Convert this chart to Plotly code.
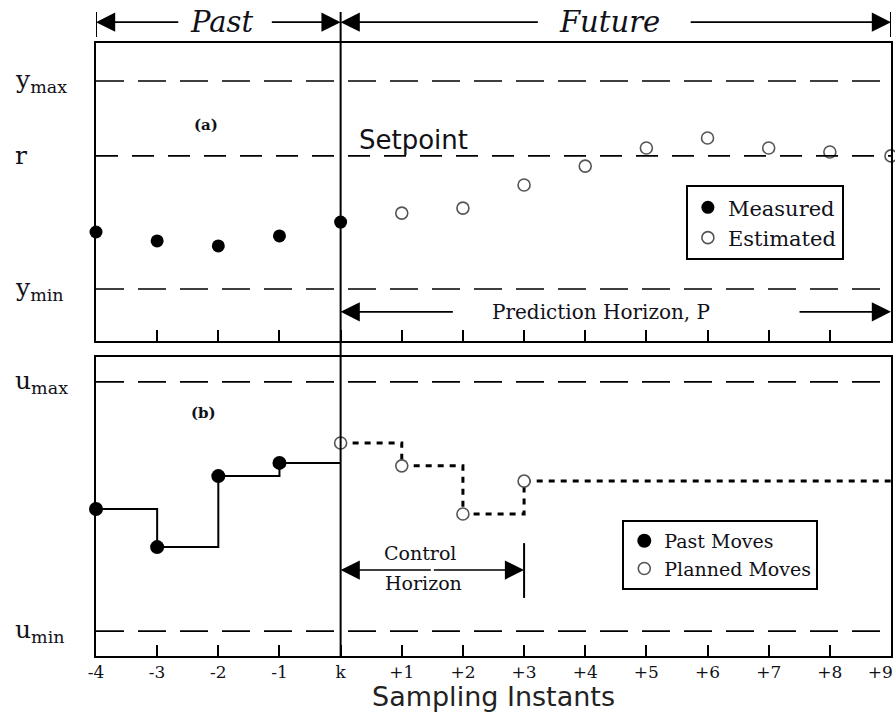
import plotly.graph_objects as go

# ---------------- data ----------------
tick_vals = [-4, -3, -2, -1, 0, 1, 2, 3, 4, 5, 6, 7, 8, 9]
tick_text = ["-4", "-3", "-2", "-1", "k", "+1", "+2", "+3", "+4", "+5", "+6", "+7", "+8",
             "+9\u00a0\u00a0\u00a0\u00a0"]

measured_x = [-4, -3, -2, -1, 0]
measured_y = [0.274, 0.231, 0.207, 0.255, 0.322]

estimated_x = [1, 2, 3, 4, 5, 6, 7, 8, 9]
estimated_y = [0.365, 0.389, 0.50, 0.591, 0.678, 0.726, 0.678, 0.659, 0.64]

y_min, y_set, y_max = 0.0, 0.64, 1.0

past_x = [-4, -3, -2, -1]
past_u = [0.49, 0.337, 0.622, 0.675]

planned_x = [0, 1, 2, 3]
planned_u = [0.755, 0.663, 0.47, 0.602]

u_min, u_max = 0.0, 1.0
k_now = 0
x_end = 9
control_horizon = 3

SERIF = "DejaVu Serif"
SANS = "DejaVu Sans"
INK = "#111118"

fig = go.Figure()

# top panel traces
fig.add_trace(go.Scatter(x=measured_x, y=measured_y, mode="markers", name="Measured",
                         marker=dict(color="black", size=13), cliponaxis=False,
                         xaxis="x", yaxis="y", legend="legend"))
fig.add_trace(go.Scatter(x=estimated_x, y=estimated_y, mode="markers", name="Estimated",
                         marker=dict(color="white", size=12, line=dict(color="#555", width=1.6)),
                         cliponaxis=False, xaxis="x", yaxis="y", legend="legend"))

# bottom panel: step lines
fig.add_trace(go.Scatter(x=past_x + [k_now], y=past_u + [past_u[-1]], mode="lines",
                         line=dict(color="black", width=2, shape="hv"), showlegend=False,
                         xaxis="x2", yaxis="y2", hoverinfo="skip"))
fig.add_trace(go.Scatter(x=planned_x + [x_end], y=planned_u + [planned_u[-1]], mode="lines",
                         line=dict(color="black", width=3, shape="hv", dash="6px,6px"),
                         showlegend=False, xaxis="x2", yaxis="y2", hoverinfo="skip", cliponaxis=False))
fig.add_trace(go.Scatter(x=past_x, y=past_u, mode="markers", name="Past Moves",
                         marker=dict(color="black", size=14), cliponaxis=False,
                         xaxis="x2", yaxis="y2", legend="legend2"))
fig.add_trace(go.Scatter(x=planned_x, y=planned_u, mode="markers", name="Planned Moves",
                         marker=dict(color="white", size=12, line=dict(color="#555", width=1.6)),
                         cliponaxis=False, xaxis="x2", yaxis="y2", legend="legend2"))

shapes = []
# dashed limit lines
for yv, dash in [(y_max, "28px,14px"), (y_set, "22px,14px"), (y_min, "28px,14px")]:
    shapes.append(dict(type="line", xref="x", yref="y", x0=-4, x1=x_end, y0=yv, y1=yv,
                       line=dict(color="black", width=1.6, dash=dash)))
for yv in [u_max, u_min]:
    shapes.append(dict(type="line", xref="x2", yref="y2", x0=-4, x1=x_end, y0=yv, y1=yv,
                       line=dict(color="black", width=1.6, dash="28px,14px")))
# vertical line at k through both panels
shapes.append(dict(type="line", xref="x", yref="paper", x0=k_now, x1=k_now, y0=0, y1=1.0506,
                   line=dict(color="black", width=2)))
# header ticks
for xv in [-4, x_end]:
    shapes.append(dict(type="line", xref="x", yref="paper", x0=xv, x1=xv, y0=1.0098, y1=1.0506,
                       line=dict(color="black", width=2)))
# control horizon bar
shapes.append(dict(type="line", xref="x2", yref="y2", x0=control_horizon, x1=control_horizon,
                   y0=0.133, y1=0.353, line=dict(color="black", width=2)))

annotations = []


def arrow(x_head, x_tail, y, xref, yref):
    annotations.append(dict(x=x_head, y=y, ax=x_tail, ay=0, xref=xref, yref=yref,
                            axref=xref, ayref="pixel", text="", showarrow=True,
                            arrowhead=2, arrowsize=2.4, arrowwidth=1.6, arrowcolor="black",
                            standoff=0, startstandoff=0))


# header
hy = 1.034
arrow(-4, -2.63, hy, "x", "paper")
arrow(0, -1.15, hy, "x", "paper")
arrow(0, 3.25, hy, "x", "paper")
arrow(9, 5.7, hy, "x", "paper")
annotations.append(dict(x=-1.94, y=hy, xref="x", yref="paper", text="<i>Past</i>", showarrow=False,
                        yanchor="middle", font=dict(family=SERIF, size=29, color=INK)))
annotations.append(dict(x=4.4, y=hy, xref="x", yref="paper", text="<i>Future</i>", showarrow=False,
                        yanchor="middle", font=dict(family=SERIF, size=29, color=INK)))

# prediction horizon
arrow(0, 1.86, -0.11, "x", "y")
arrow(9, 7.48, -0.11, "x", "y")
annotations.append(dict(x=4.25, y=-0.11, xref="x", yref="y", text="Prediction Horizon, P",
                        showarrow=False, font=dict(family=SERIF, size=20, color=INK)))

# control horizon
arrow(0, 1.5, 0.245, "x2", "y2")
arrow(3, 1.5, 0.245, "x2", "y2")
annotations.append(dict(x=1.29, y=0.313, xref="x2", yref="y2", text="Control",
                        showarrow=False, font=dict(family=SERIF, size=19, color=INK)))
annotations.append(dict(x=1.35, y=0.193, xref="x2", yref="y2", text="Horizon",
                        showarrow=False, font=dict(family=SERIF, size=19, color=INK)))

# setpoint and panel labels
annotations.append(dict(x=0.27, y=0.716, xref="x", yref="y", text="Setpoint", xanchor="left",
                        showarrow=False, font=dict(family=SANS, size=26, color=INK)))
annotations.append(dict(x=-2.2, y=0.79, xref="x", yref="y", text="<b>(a)</b>",
                        showarrow=False, font=dict(family=SERIF, size=15, color=INK)))
annotations.append(dict(x=-2.25, y=0.875, xref="x2", yref="y2", text="<b>(b)</b>",
                        showarrow=False, font=dict(family=SERIF, size=15, color=INK)))

# left labels
for txt, yv, yr in [("y<sub>max</sub>", y_max, "y"), ("r", y_set, "y"), ("y<sub>min</sub>", y_min, "y"),
                    ("u<sub>max</sub>", u_max, "y2"), ("u<sub>min</sub>", u_min, "y2")]:
    annotations.append(dict(x=-0.105, y=yv, xref="paper", yref=yr, text=txt, xanchor="left",
                            yanchor="middle", showarrow=False,
                            font=dict(family=SERIF, size=25, color=INK)))

# x title
annotations.append(dict(x=0.5, y=-0.066, xref="paper", yref="paper", text="Sampling Instants",
                        showarrow=False, yanchor="middle",
                        font=dict(family=SANS, size=27, color="#222")))

axis_common = dict(range=[-4, 9], showgrid=False, zeroline=False, showline=True, mirror=True,
                   linecolor="black", linewidth=2, tickvals=tick_vals, ticks="inside",
                   ticklen=11, tickwidth=2, tickcolor="black", automargin=False)

fig.update_layout(
    width=895, height=715,
    margin=dict(l=96, r=2, t=43, b=59),
    paper_bgcolor="white", plot_bgcolor="white",
    showlegend=True,
    xaxis=dict(**axis_common, domain=[0, 1], anchor="y", showticklabels=False),
    yaxis=dict(range=[-0.25, 1.183], domain=[0.5139, 1], anchor="x", showgrid=False,
               zeroline=False, showline=True, mirror=True, linecolor="black", linewidth=2,
               showticklabels=False, ticks=""),
    xaxis2=dict(**axis_common, domain=[0, 1], anchor="y2", ticktext=tick_text,
                ticklabeloverflow="allow",
                tickfont=dict(family=SERIF, size=17, color=INK)),
    yaxis2=dict(range=[-0.1, 1.1], domain=[0, 0.4878], anchor="x2", showgrid=False,
                zeroline=False, showline=True, mirror=True, linecolor="black", linewidth=2,
                showticklabels=False, ticks=""),
    legend=dict(x=0.742, y=0.768, xanchor="left", yanchor="top", bgcolor="white",
                bordercolor="black", borderwidth=2, font=dict(family=SERIF, size=21, color=INK),
                itemwidth=30),
    legend2=dict(x=0.662, y=0.222, xanchor="left", yanchor="top", bgcolor="white",
                 bordercolor="black", borderwidth=2, font=dict(family=SERIF, size=19, color=INK),
                 itemwidth=30),
    shapes=shapes,
    annotations=annotations,
)

fig.write_html("out.html")
